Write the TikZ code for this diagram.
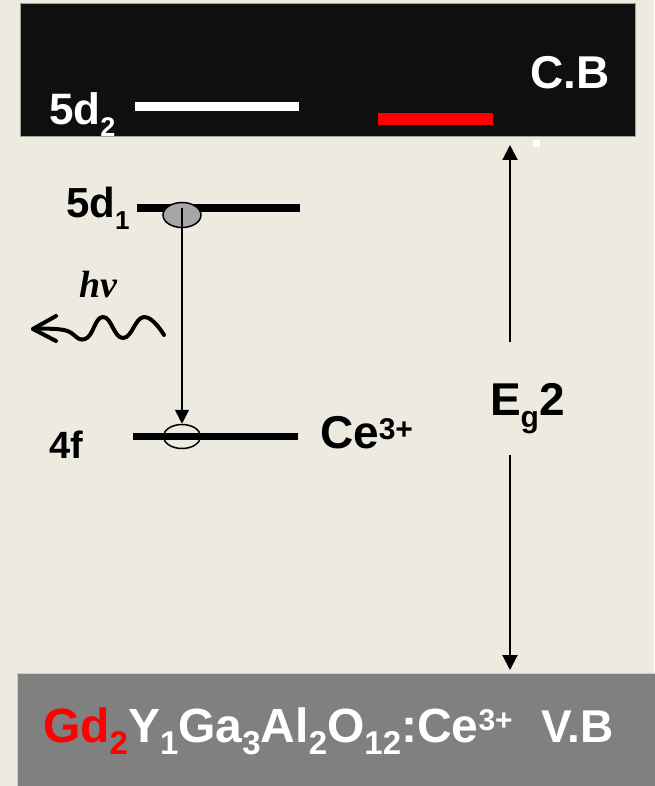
\documentclass[tikz,border=0pt]{standalone}
\usepackage{fontspec}
\setmainfont{Liberation Sans}
\newfontfamily\hnufont{Liberation Serif}
\usetikzlibrary{arrows.meta,shapes.geometric}
\definecolor{bgc}{RGB}{237,234,224}
\definecolor{cbc}{RGB}{15,15,15}
\definecolor{vbc}{RGB}{128,128,128}
\definecolor{elc}{RGB}{166,166,166}
\newcommand{\fs}[1]{\fontsize{#1}{#1}\selectfont}
\newcommand{\lowsub}[3]{\raisebox{-#2pt}{\fs{#1}#3}}
\newcommand{\highsup}[3]{\raisebox{#2pt}{\fs{#1}#3}}
\tikzset{
  txt/.style={inner sep=0pt, outer sep=0pt, anchor=base west},
  level/.style={line width=#1},
  arr/.style={line width=2pt, -{Triangle[length=15pt,width=15pt]}},
  elec/.style={ellipse, draw=black, line width=1.5pt, inner sep=0pt, minimum width=38pt, minimum height=25pt},
  photon/.style={line width=4pt, line cap=round, line join=round}
}
\begin{document}
\begin{tikzpicture}[x=1pt,y=-1pt]
\useasboundingbox (0,0) rectangle (654,786);
\fill[bgc] (0,0) rectangle (654,786);
% bands
\node[draw={rgb,255:red,160;green,160;blue,150}, line width=0.8pt, fill=cbc, inner sep=0pt, anchor=north west, minimum width=615pt, minimum height=133pt] (cb) at (20,3) {};
\node[draw={rgb,255:red,205;green,205;blue,205}, line width=0.8pt, fill=vbc, inner sep=0pt, anchor=north west, minimum width=640pt, minimum height=116pt] (vb) at (17,673) {};
% levels
\draw[level=9pt, white] (135,106.5) -- (299,106.5);
\draw[level=12pt, red] (378,119) -- (493,119);
\draw[level=8pt, black] (137,208) -- (300,208);
\draw[level=7pt, black] (133,436) -- (298,436);
% small white mark
\fill[white] (533,140) rectangle (540,147);
% electrons
\node[elec, fill=elc] (e1) at (182,215) {};
\node[elec, minimum width=37pt, minimum height=24pt] (e2) at (182,436.5) {};
\coordinate (e1top) at (182,208);
\draw[line width=1.6pt, -{Triangle[length=14pt,width=14pt]}] (e1top) -- (e2.north);
% photon
\coordinate (ptip) at (33,329);
\draw[photon] plot[smooth, tension=0.8] coordinates {(164,335) (144,317) (123,338) (103,317) (85,339) (64,330) (ptip)};
\draw[photon] (56,316) -- (ptip) -- (56,341);
\node[txt, font={\fs{38}\hnufont\bfseries\itshape}] (hnu) at (79,297) {hν};
% labels
\node[txt, white, font={\fs{44}\bfseries}] (l5d2) at (49,125) {5d\lowsub{27}{12}{2}};
\node[txt, font={\fs{42}\bfseries}] (l5d1) at (66,218) {5d\lowsub{26}{12}{1}};
\node[txt, font={\fs{38}\bfseries}] (l4f) at (49,458) {4f};
\node[txt, font={\fs{46}\bfseries}] (lce) at (320,448) {Ce\highsup{30}{9}{3+}};
\node[txt, white, font={\fs{46}\bfseries}] (lcb) at (530,89) {C.B};
\node[txt, font={\fs{46}\bfseries}] (eg) at (490,415) {E\lowsub{30}{12}{g}2};
\node[txt, white, font={\fs{48}\bfseries}] (form) at (43,742) {\textcolor{red}{Gd\lowsub{33}{12}{2}}Y\lowsub{33}{12}{1}Ga\lowsub{33}{12}{3}Al\lowsub{33}{12}{2}O\lowsub{33}{12}{12}:Ce\highsup{30}{12}{3+}};
\node[txt, white, font={\fs{46}\bfseries}] (lvb) at (541,742) {V.B};
% band gap arrows
\coordinate (egtop) at (510,342);
\coordinate (egbot) at (510,455);
\coordinate (cbtip) at (510,145);
\coordinate (vbtip) at (510,670);
\draw[arr] (egtop) -- (cbtip);
\draw[arr] (egbot) -- (vbtip);
\end{tikzpicture}
\end{document}
